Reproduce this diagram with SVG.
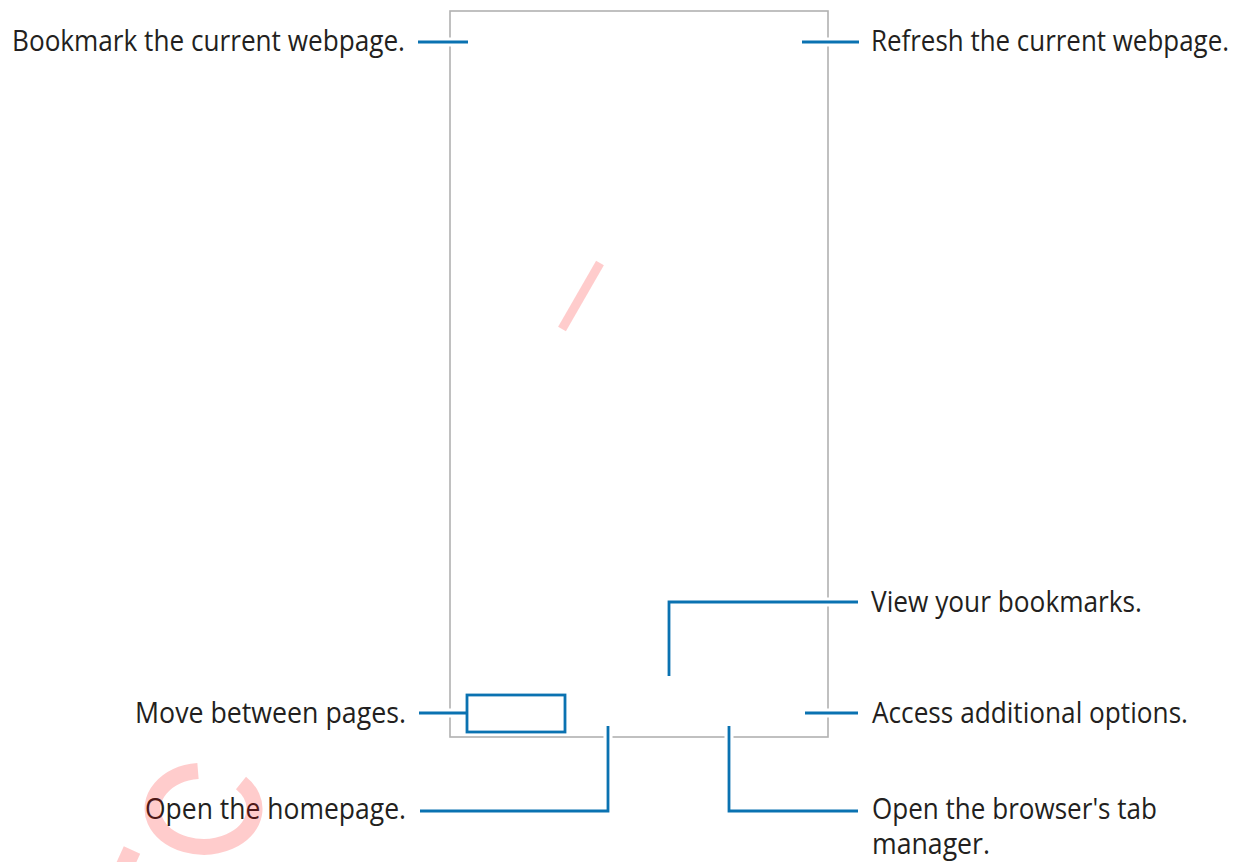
<svg xmlns="http://www.w3.org/2000/svg" width="1247" height="862" viewBox="0 0 1247 862">
<style>
.lbl{font-family:"Open Sans","Liberation Sans",sans-serif;font-size:29px;fill:#231f20}
.end{text-anchor:end}
.halo{stroke:#ffffff;stroke-width:9;fill:none}
.ln{stroke:#0a72b1;stroke-width:2.8;fill:none}
.frame{stroke:#b1b1b1;stroke-width:1.6;fill:none}
.wm{stroke:#ff0000;stroke-opacity:0.2;fill:none}
</style>
<rect width="1247" height="862" fill="#ffffff"/>
<g id="screen"><rect class="frame" x="450" y="11" width="378" height="726"/></g>
<g id="connectors">
<g class="halo">
<line x1="418" y1="42" x2="468" y2="42"/>
<line x1="802" y1="42" x2="859" y2="42"/>
<polyline points="669,676 669,602 858,602"/>
<line x1="419" y1="713" x2="467" y2="713"/>
<line x1="805" y1="713" x2="858" y2="713"/>
<polyline points="420,811 608,811 608,726"/>
<polyline points="729,726 729,811 858,811"/>
</g>
<g class="ln">
<line x1="418" y1="42" x2="468" y2="42"/>
<line x1="802" y1="42" x2="859" y2="42"/>
<polyline points="669,676 669,602 858,602"/>
<line x1="419" y1="713" x2="467" y2="713"/>
<line x1="805" y1="713" x2="858" y2="713"/>
<polyline points="420,811 608,811 608,726"/>
<polyline points="729,726 729,811 858,811"/>
</g>
</g>
<g id="pager"><rect class="ln" x="467" y="695" width="98" height="37"/></g>
<g id="bookmark"><text class="lbl end" x="405" y="51" textLength="393" lengthAdjust="spacingAndGlyphs">Bookmark the current webpage.</text></g>
<g id="refresh"><text class="lbl" x="871" y="51" textLength="358" lengthAdjust="spacingAndGlyphs">Refresh the current webpage.</text></g>
<g id="view-bookmarks"><text class="lbl" x="871" y="612" textLength="271" lengthAdjust="spacingAndGlyphs">View your bookmarks.</text></g>
<g id="move-pages"><text class="lbl end" x="406" y="723" textLength="271" lengthAdjust="spacingAndGlyphs">Move between pages.</text></g>
<g id="options"><text class="lbl" x="872" y="723" textLength="316" lengthAdjust="spacingAndGlyphs">Access additional options.</text></g>
<g id="homepage"><text class="lbl end" x="406" y="819" textLength="261" lengthAdjust="spacingAndGlyphs">Open the homepage.</text></g>
<g id="tab-manager"><text class="lbl" x="872" y="819"><tspan x="872" textLength="285" lengthAdjust="spacingAndGlyphs">Open the browser's tab</tspan><tspan x="872" dy="35" textLength="118" lengthAdjust="spacingAndGlyphs">manager.</tspan></text></g>
<g id="watermark">
<line class="wm" x1="562" y1="329" x2="600" y2="263" stroke-width="9"/>
<path class="wm" stroke-width="16" d="M 241 783 A 51 38 0 1 1 198 771"/>
<line class="wm" x1="132" y1="850" x2="122" y2="872" stroke-width="18"/>
</g>
</svg>
